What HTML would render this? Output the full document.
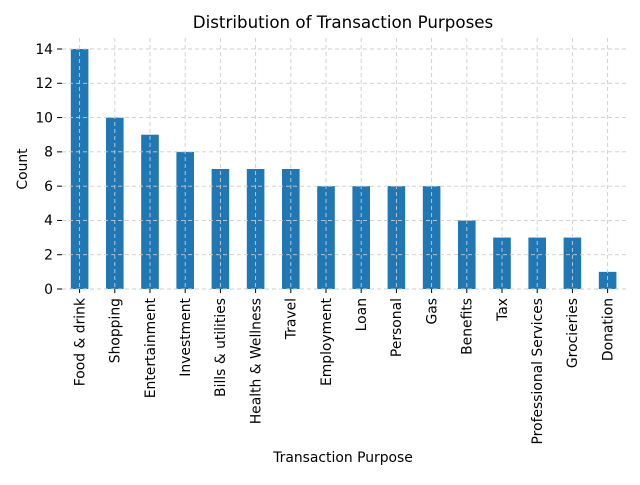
<!DOCTYPE html>
<html><head><meta charset="utf-8"><style>
body{margin:0;background:#fff}
svg{font-family:"DejaVu Sans","Liberation Sans",sans-serif}
</style></head><body>
<svg id="chart" width="640" height="480">
<text x="343" y="28" text-anchor="middle" font-size="16.7">Distribution of Transaction Purposes</text>
<text transform="translate(27,169) rotate(-90)" text-anchor="middle" font-size="13.9">Count</text>
<text x="343" y="462" text-anchor="middle" font-size="13.9">Transaction Purpose</text>
<g id="bars"></g><g id="grid"></g><g id="ticks"></g>
</svg>
<script>
const categories=["Food & drink","Shopping","Entertainment","Investment","Bills & utilities","Health & Wellness","Travel","Employment","Loan","Personal","Gas","Benefits","Tax","Professional Services","Grocieries","Donation"];
const counts=[14,10,9,8,7,7,7,6,6,6,6,4,3,3,3,1];
const yTicks=[0,2,4,6,8,10,12,14];
const NS="http://www.w3.org/2000/svg";
const x0=62,step=35.2,yBase=289,yTop=49,yMax=14;
const xs=i=>x0+step*(i+0.5);
const ys=v=>yBase-(yBase-yTop)*v/yMax;
function mk(t,a,p){const e=document.createElementNS(NS,t);for(const k in a)e.setAttribute(k,a[k]);p.appendChild(e);return e;}
const bars=document.getElementById('bars'),grid=document.getElementById('grid'),ticks=document.getElementById('ticks');
counts.forEach((v,i)=>{
 const r=mk('rect',{x:xs(i)-8.8,y:ys(v),width:17.6,height:yBase-ys(v),fill:'#1f77b4'},bars);
 
 
 const g=mk('line',{x1:xs(i),x2:xs(i),y1:38,y2:yBase,stroke:'#ccc','stroke-dasharray':'4,3','stroke-width':0.9},grid);
 
 
 mk('line',{x1:xs(i),x2:xs(i),y1:yBase,y2:yBase+4,stroke:'#000'},ticks);
 const t=mk('text',{transform:`translate(${xs(i)+4.8},${yBase+9}) rotate(-90)`,'text-anchor':'end','font-size':13.9},ticks);
 t.textContent=categories[i];
 
 
});
yTicks.forEach(v=>{
 const g=mk('line',{x1:x0,x2:626,y1:ys(v),y2:ys(v),stroke:'#ccc','stroke-dasharray':'4,3','stroke-width':0.9},grid);
 
 
 mk('line',{x1:57,x2:62,y1:ys(v),y2:ys(v),stroke:'#000'},ticks);
 const t=mk('text',{x:53,y:ys(v)+4.8,'text-anchor':'end','font-size':13.9},ticks);
 t.textContent=v;
 
 
});
</script>
</body></html>
